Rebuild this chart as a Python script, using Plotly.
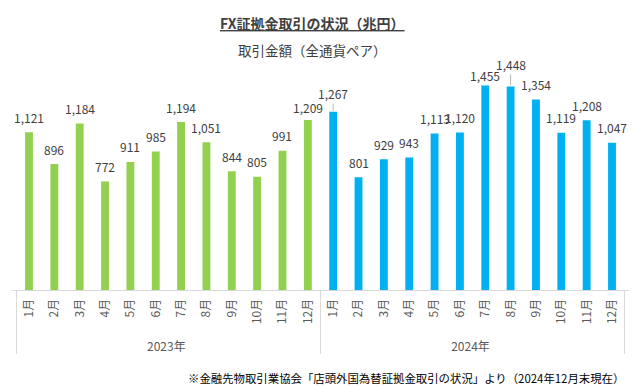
import plotly.graph_objects as go

# ---- data ----
year_labels = ["2023年", "2024年"]
month_labels = ["1月", "2月", "3月", "4月", "5月", "6月", "7月", "8月", "9月", "10月", "11月", "12月"]
values_2023 = [1121, 896, 1184, 772, 911, 985, 1194, 1051, 844, 805, 991, 1209]
values_2024 = [1267, 801, 929, 943, 1113, 1120, 1455, 1448, 1354, 1119, 1208, 1047]
colors_by_year = {"2023年": "#92D050", "2024年": "#00B0F0"}

# label offsets (pixels above bar top) and leader lines
label_offset = {("2024年", "1月"): -18, ("2024年", "7月"): -10, ("2024年", "8月"): -22,
                ("2023年", "12月"): -12}
leader = {("2024年", "1月"), ("2024年", "8月")}

PAD = "\u2002"  # display padding so the year row sits a little lower

xs_year, xs_month, ys, cols, keys = [], [], [], [], []
for yr, vals in zip(year_labels, [values_2023, values_2024]):
    for m, v in zip(month_labels, vals):
        xs_year.append(yr)
        xs_month.append(PAD + m)
        ys.append(v)
        cols.append(colors_by_year[yr])
        keys.append((yr, m))

fig = go.Figure()
fig.add_trace(go.Bar(
    x=[xs_year, xs_month], y=ys,
    marker=dict(color=cols, line=dict(width=0)),
    hoverinfo="skip",
))

font_family = "Noto Sans CJK JP"
annotations = []
for yr, m, v, key in zip(xs_year, xs_month, ys, keys):
    annotations.append(dict(
        x=[yr, m], y=v, xref="x", yref="y",
        text=f"{v:,}",
        showarrow=True, arrowhead=0, arrowwidth=0.8,
        arrowcolor="#a6a6a6" if key in leader else "rgba(0,0,0,0)",
        ax=0, ay=label_offset.get(key, -15), standoff=1,
        font=dict(family=font_family, size=12, color="#404040"),
    ))

annotations += [
    dict(text="<b><u>FX証拠金取引の状況（兆円）</u></b>", xref="paper", yref="paper",
         x=(312 - 12) / 617, y=(290 - 23) / 225, xanchor="center", yanchor="middle",
         showarrow=False, font=dict(family=font_family, size=14, color="#404040")),
    dict(text="取引金額（全通貨ペア）", xref="paper", yref="paper",
         x=(312 - 12) / 617, y=(290 - 50) / 225, xanchor="center", yanchor="middle",
         showarrow=False, font=dict(family=font_family, size=13.5, color="#404040")),
    dict(text="※金融先物取引業協会「店頭外国為替証拠金取引の状況」より（2024年12月末現在）",
         xref="paper", yref="paper", x=(626 - 12) / 617, y=(290 - 378) / 225,
         xanchor="right", yanchor="middle", showarrow=False,
         font=dict(family=font_family, size=11.4, color="#000000")),
]

fig.update_layout(
    width=635, height=387,
    margin=dict(l=12, r=6, t=65, b=97),
    paper_bgcolor="white", plot_bgcolor="white",
    bargap=0.69,
    showlegend=False,
    annotations=annotations,
    font=dict(family=font_family, size=12, color="#595959"),
)
fig.update_xaxes(
    type="multicategory", tickangle=-90, showline=True, linecolor="#d9d9d9", linewidth=1,
    showdividers=True, dividercolor="#d9d9d9", dividerwidth=1,
    ticks="", showgrid=False, automargin=False, ticklabelstandoff=3,
    tickfont=dict(family=font_family, size=12, color="#595959"),
)
fig.update_yaxes(visible=False, range=[0, 1600], showgrid=False)

fig.write_html("out.html", config={"displayModeBar": False},
               post_script="document.body.style.margin='0';document.body.style.overflow='hidden';")
